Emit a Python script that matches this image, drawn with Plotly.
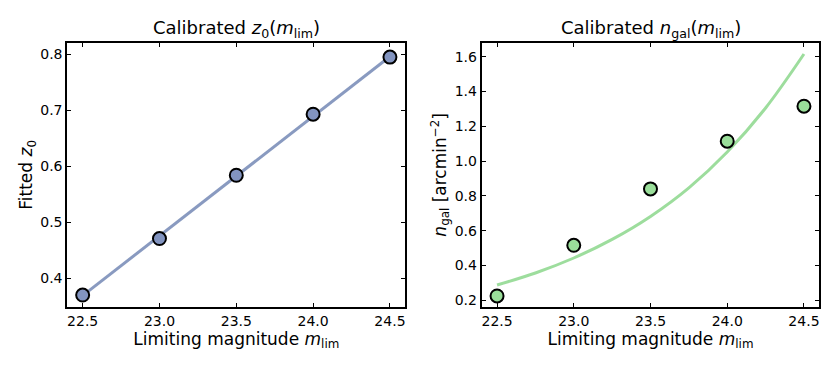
import plotly.graph_objects as go

# Data
m_lim = [22.5, 23.0, 23.5, 24.0, 24.5]
z0_fitted = [0.370, 0.471, 0.584, 0.693, 0.795]
ngal_calibrated = [0.225, 0.516, 0.840, 1.114, 1.315]

# Model curves
z0_line_m = [22.5, 24.5]
z0_line = [0.369, 0.796]
ngal_curve_m = [22.5, 22.75, 23.0, 23.25, 23.5, 23.75, 24.0, 24.25, 24.5]
ngal_curve = [0.288, 0.357, 0.443, 0.550, 0.682, 0.846, 1.052, 1.305, 1.615]

x_ticks = [22.5, 23.0, 23.5, 24.0, 24.5]
z0_ticks = [0.4, 0.5, 0.6, 0.7, 0.8]
ngal_ticks = [0.2, 0.4, 0.6, 0.8, 1.0, 1.2, 1.4, 1.6]

FONT = "DejaVu Sans"
blue_line = "rgba(108,129,176,0.8)"
blue_fill = "#8294c0"
green_line = "rgba(140,215,140,0.85)"
green_fill = "#9ade9a"

fig = go.Figure()
fig.add_trace(go.Scatter(x=z0_line_m, y=z0_line, mode="lines",
                         line=dict(color=blue_line, width=3), xaxis="x", yaxis="y",
                         showlegend=False, hoverinfo="skip"))
fig.add_trace(go.Scatter(x=m_lim, y=z0_fitted, mode="markers",
                         marker=dict(size=13, color=blue_fill, line=dict(color="black", width=2)),
                         xaxis="x", yaxis="y", showlegend=False))
fig.add_trace(go.Scatter(x=ngal_curve_m, y=ngal_curve, mode="lines", line_shape="spline",
                         line=dict(color=green_line, width=3), xaxis="x2", yaxis="y2",
                         showlegend=False, hoverinfo="skip"))
fig.add_trace(go.Scatter(x=m_lim, y=ngal_calibrated, mode="markers",
                         marker=dict(size=13, color=green_fill, line=dict(color="black", width=2)),
                         xaxis="x2", yaxis="y2", showlegend=False))

ax_common = dict(showline=True, linecolor="black", linewidth=2, mirror="ticks",
                 ticks="inside", ticklen=4, tickwidth=1, tickcolor="black",
                 showgrid=False, zeroline=False,
                 tickfont=dict(family=FONT, size=14, color="black"))

W, H = 840, 368
OFF = 8  # page body margin
def xd(a, b):
    return [(a - OFF) / W, (b - OFF) / W]
y_top = 1 - (42.7 - OFF) / H
y_bot = 1 - (307.0 - OFF) / H
dom1 = xd(67.3, 405.3)
dom2 = xd(481.7, 819.3)

fig.update_layout(
    width=W, height=H,
    margin=dict(l=0, r=0, t=0, b=0),
    paper_bgcolor="white", plot_bgcolor="white",
    font=dict(family=FONT, color="black"),
    xaxis=dict(domain=dom1, range=[22.4, 24.6], tickvals=x_ticks,
               ticktext=[f"{v:.1f}" for v in x_ticks], anchor="y",
               title=dict(text="Limiting magnitude <i>m</i><sub>lim</sub>",
                          font=dict(family=FONT, size=17), standoff=4), **ax_common),
    yaxis=dict(domain=[y_bot, y_top], range=[0.3487, 0.8207], tickvals=z0_ticks,
               ticktext=[f"{v:.1f}" for v in z0_ticks], anchor="x",
               title=dict(text="Fitted <i>z</i><sub>0</sub>",
                          font=dict(family=FONT, size=17), standoff=3), **ax_common),
    xaxis2=dict(domain=dom2, range=[22.4, 24.6], tickvals=x_ticks,
                ticktext=[f"{v:.1f}" for v in x_ticks], anchor="y2",
                title=dict(text="Limiting magnitude <i>m</i><sub>lim</sub>",
                           font=dict(family=FONT, size=17), standoff=4), **ax_common),
    yaxis2=dict(domain=[y_bot, y_top], range=[0.1615, 1.680], tickvals=ngal_ticks,
                ticktext=[f"{v:.1f}" for v in ngal_ticks], anchor="x2",
                title=dict(text="<i>n</i><sub>gal</sub> [arcmin<sup>−2</sup>]",
                           font=dict(family=FONT, size=17), standoff=4), **ax_common),
    annotations=[
        dict(text="Calibrated <i>z</i><sub>0</sub>(<i>m</i><sub>lim</sub>)",
             x=sum(dom1) / 2, y=y_top, xref="paper", yref="paper",
             xanchor="center", yanchor="bottom", yshift=0, showarrow=False,
             font=dict(family=FONT, size=18, color="black")),
        dict(text="Calibrated <i>n</i><sub>gal</sub>(<i>m</i><sub>lim</sub>)",
             x=sum(dom2) / 2, y=y_top, xref="paper", yref="paper",
             xanchor="center", yanchor="bottom", yshift=0, showarrow=False,
             font=dict(family=FONT, size=18, color="black")),
    ],
)

fig.write_html("out.html")
